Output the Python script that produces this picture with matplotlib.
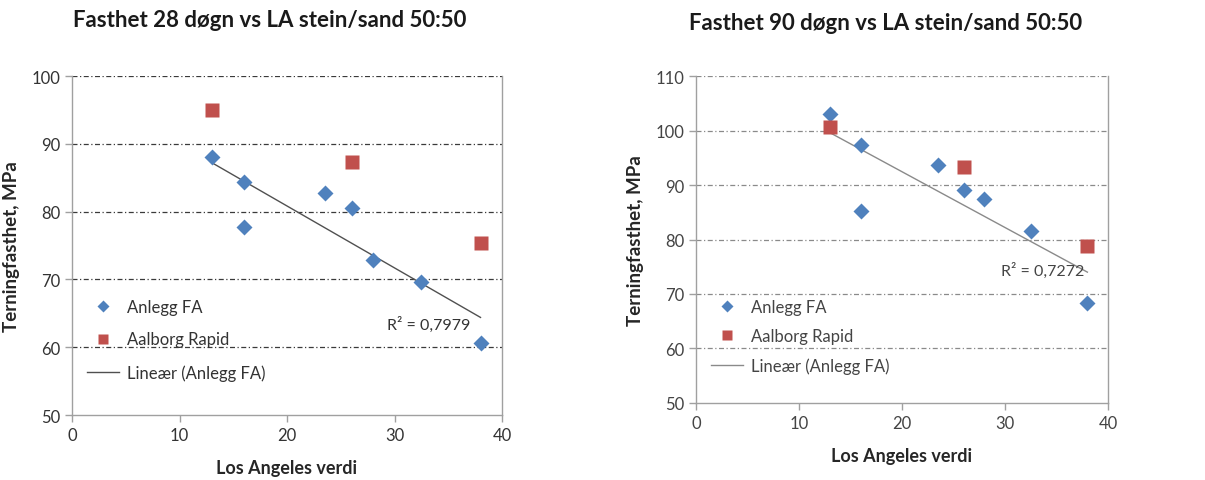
import matplotlib.pyplot as plt
import numpy as np

plt.rcParams['font.family'] = ['Lato', 'DejaVu Sans']

# Los Angeles values for the two test series
la_anlegg = [13, 16, 16, 23.5, 26, 28, 32.5, 38]
la_aalborg = [13, 26, 38]

# cube strength, MPa
fa28_anlegg = [88, 84.3, 77.8, 82.8, 80.5, 72.9, 69.6, 60.6]
fa28_aalborg = [95, 87.3, 75.3]
fa90_anlegg = [103, 97.3, 85.3, 93.7, 89, 87.4, 81.6, 68.4]
fa90_aalborg = [100.6, 93.3, 78.8]

r2_labels = ["R² = 0,7979", "R² = 0,7272"]
titles = ["Fasthet 28 døgn vs LA stein/sand 50:50",
          "Fasthet 90 døgn vs LA stein/sand 50:50"]

BLUE = '#4F81BD'
RED = '#C0504D'


def draw(ax, y_anlegg, y_aalborg, ylim, r2_text, r2_pos, title, leg_anchor,
         grid_col, line_col, txt_col, title_pad, spacing):
    ax.plot(la_anlegg, y_anlegg, 'D', color=BLUE, ms=8, mec='none',
            label='Anlegg FA', zorder=3)
    ax.plot(la_aalborg, y_aalborg, 's', color=RED, ms=10.5, mec='none',
            label='Aalborg Rapid', zorder=3)
    k, m = np.polyfit(la_anlegg, y_anlegg, 1)
    xs = np.array([min(la_anlegg), max(la_anlegg)])
    ax.plot(xs, k * xs + m, color=line_col, lw=1.0,
            label='Lineær (Anlegg FA)', zorder=2)
    ax.text(r2_pos[0], r2_pos[1], r2_text, fontsize=11.5, color=txt_col,
            ha='left', va='center')

    ax.set_xlim(0, 40)
    ax.set_ylim(*ylim)
    ax.set_xticks(range(0, 41, 10))
    ax.set_yticks(range(ylim[0], ylim[1] + 1, 10))
    for yv in range(ylim[0] + 10, ylim[1] + 1, 10):
        ax.axhline(yv, color=grid_col, lw=0.9, ls=(0, (4, 2, 1, 2)), zorder=1)

    for s in ['left', 'bottom', 'right']:
        ax.spines[s].set_color('#A0A0A0')
        ax.spines[s].set_linewidth(1.0)
    ax.spines['top'].set_visible(False)
    ax.tick_params(axis='both', colors='#A0A0A0', length=5, width=1.0,
                   labelsize=12, labelcolor=txt_col)

    # title sits a little left of the plot centre
    ax.set_title(title, fontsize=16, fontweight='bold', pad=title_pad,
                 color='#1a1a1a', x=0.46)
    ax.set_xlabel('Los Angeles verdi', fontsize=13, fontweight='bold',
                  color='#262626', labelpad=12)
    ax.set_ylabel('Terningfasthet, MPa', fontsize=13.5, fontweight='bold',
                  color='#262626', labelpad=8)

    leg = ax.legend(loc='upper left', bbox_to_anchor=leg_anchor, frameon=False,
                    fontsize=12, markerscale=0.75, handlelength=1.9,
                    labelspacing=spacing, handletextpad=0.5)
    for t in leg.get_texts():
        t.set_color(txt_col)


fig = plt.figure(figsize=(12.05, 4.81), dpi=100)
ax1 = fig.add_axes([0.0598, 0.1351, 0.3568, 0.7048])
ax2 = fig.add_axes([0.5776, 0.1601, 0.3419, 0.6798])

draw(ax1, fa28_anlegg, fa28_aalborg, (50, 100), r2_labels[0], (29.3, 63.5),
     titles[0], (0.0, 0.387), '#3a3a3a', '#505050', '#333333', 36, 1.0)
draw(ax2, fa90_anlegg, fa90_aalborg, (50, 110), r2_labels[1], (29.6, 74.5),
     titles[1], (0.0, 0.365), '#8a8a8a', '#8a8a8a', '#444444', 34, 0.8)

fig.savefig('out.png', dpi=100)
